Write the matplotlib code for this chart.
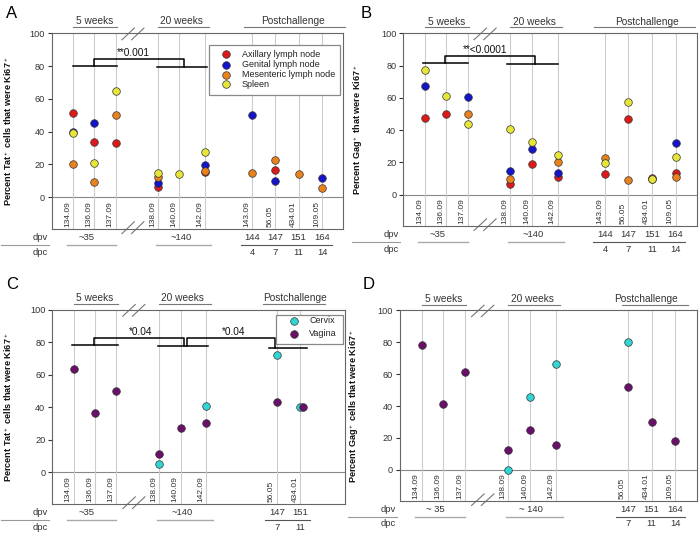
import numpy as np
import matplotlib
matplotlib.use('Agg')
import matplotlib.pyplot as plt
from matplotlib import font_manager
from matplotlib.patches import Rectangle

nan = np.nan

# Fuentes: Arial-like, y una angosta para las etiquetas de muestras
plt.rcParams['font.family'] = ['Liberation Sans', 'DejaVu Sans']
plt.rcParams['mathtext.fontset'] = 'custom'
plt.rcParams['mathtext.rm'] = 'Liberation Sans'
plt.rcParams['mathtext.it'] = 'Liberation Sans:italic'
plt.rcParams['mathtext.bf'] = 'Liberation Sans:bold'
nombres = {f.name for f in font_manager.fontManager.ttflist}
hay_angosta = 'Liberation Sans Narrow' in nombres
angosta = 'Liberation Sans Narrow' if hay_angosta else 'Liberation Sans'
tam_muestra = 7.6 if hay_angosta else 6.0
tam_fila = 8.4 if hay_angosta else 6.8

# ---- datos ----
muestras_ab = ['134.09', '136.09', '137.09', '138.09', '140.09', '142.09',
               '143.09', '56.05', '434.01', '109.05']
muestras_c = ['134.09', '136.09', '137.09', '138.09', '140.09', '142.09',
              '56.05', '434.01']
muestras_d = ['134.09', '136.09', '137.09', '138.09', '140.09', '142.09',
              '56.05', '434.01', '109.05']

tejidos = ['Axillary lymph node', 'Genital lymph node',
           'Mesenteric lymph node', 'Spleen']
mucosas = ['Cervix', 'Vagina']

# A: Tat+ Ki67+
tat_axilar = [51.6, 33.7, 33.1, 6.1, nan, 15.4, nan, 16.7, nan, nan]
tat_genital = [39.6, 45.3, nan, 8.7, nan, 19.7, 50.0, 10.0, nan, 11.8]
tat_mesenterico = [20.3, 8.9, 50.0, 12.4, nan, 15.9, 14.8, 22.4, 13.8, 5.3]
tat_bazo = [39.2, 20.5, 64.8, 14.6, 13.8, 27.8, nan, nan, nan, nan]

# B: Gag+ Ki67+
gag_axilar = [47.4, 50.1, nan, 6.4, 18.8, 11.1, 12.6, 47.0, 10.3, 13.2]
gag_genital = [67.4, nan, 60.6, 14.6, 28.5, 13.2, nan, nan, nan, 31.8]
gag_mesenterico = [nan, nan, 49.9, 9.9, nan, 20.4, 22.7, 9.1, 9.9, 10.7]
gag_bazo = [77.5, 61.4, 43.9, 40.6, 32.4, 24.7, 19.8, 57.3, 9.6, 23.5]

# C: Tat+ Ki67+ en mucosas
tat_cervix = [nan, nan, nan, 5.3, nan, 40.5, 72.1, 40.1]
tat_vagina = [63.5, 36.3, 50.1, 11.2, 27.3, 30.1, 43.4, 40.1]

# D: Gag+ Ki67+ en mucosas
gag_cervix = [nan, nan, nan, 0.0, 45.6, 66.2, 80.3, nan, nan]
gag_vagina = [78.2, 41.1, 61.4, 12.4, 25.1, 15.6, 51.9, 30.1, 18.0]

dpv_post = ['144', '147', '151', '164']
dpc_post = ['4', '7', '11', '14']
muestras_post = ['143.09', '56.05', '434.01', '109.05']

# ---- estilo / posiciones ----
pos = {'134.09': 1.0, '136.09': 2.0, '137.09': 3.0, '138.09': 5.0,
       '140.09': 6.0, '142.09': 7.2, '143.09': 9.42, '56.05': 10.5,
       '434.01': 11.6, '109.05': 12.7}
col_tejidos = ['#dd1a1a', '#1414c8', '#e8821c', '#e6e63a']
col_mucosas = ['#33d4d4', '#6a0f6a']
gris = '#777777'
texto_col = '#333333'
tam_punto = 30

fig = plt.figure(figsize=(7, 5.36), dpi=100)
axA = fig.add_axes([0.0739, 0.5728, 0.416, 0.3651])
axB = fig.add_axes([0.5761, 0.5784, 0.4191, 0.3595])
axC = fig.add_axes([0.0747, 0.0597, 0.4179, 0.3625])
axD = fig.add_axes([0.5714, 0.0653, 0.4239, 0.3558])


def marco(ax, muestras, ylabel, post_linea, tilde):
    ax.set_xlim(0, 13.68)
    ax.set_ylim(-19.5, 100)
    ax.set_xticks([])
    ax.set_yticks(range(0, 101, 20))
    for s in ax.spines.values():
        s.set_color('#666666')
        s.set_linewidth(0.8)
    ax.tick_params(axis='y', length=3, width=0.8, labelsize=6.6,
                   colors=texto_col, pad=2)
    ax.axhline(0, color='#888888', lw=0.8, zorder=1)
    for m in muestras:
        ax.axvline(pos[m], color='#cccccc', lw=0.8, zorder=1)
        ax.text(pos[m] - 0.25, -18.4, m, rotation=90, ha='center',
                va='bottom', fontsize=tam_muestra, family=angosta,
                color=texto_col)
    ax.set_ylabel(ylabel, fontsize=6.6, fontweight='bold', color='#111111')
    ax.yaxis.set_label_coords(-0.13, 0.5)

    # grupos arriba
    for txt, xc, x1, x2 in [('5 weeks', 2.0, 1.0, 3.05),
                            ('20 weeks', 6.1, 5.0, 7.4),
                            ('Postchallenge', 11.35, post_linea[0], post_linea[1])]:
        ax.text(xc, 107.3, txt, ha='center', va='center', fontsize=7.3,
                color=texto_col)
        ax.plot([x1, x2], [103.6, 103.6], color=gris, lw=0.8, clip_on=False)

    # marcas de corte //
    for y0 in (96.0, -22.3):
        for x0 in (3.3, 3.75):
            ax.plot([x0, x0 + 0.58], [y0, y0 + 7.2], color=gris, lw=0.8,
                    clip_on=False)

    # filas dpv / dpc
    ax.text(-0.55, -24.8, 'dpv', ha='center', va='center', fontsize=tam_fila,
            family=angosta, color=texto_col)
    ax.text(-0.55, -33.8, 'dpc', ha='center', va='center', fontsize=tam_fila,
            family=angosta, color=texto_col)
    ax.plot([-2.4, -0.15], [-29.3, -29.3], color='#999999', lw=0.8,
            clip_on=False)
    ax.text(1.62, -24.8, tilde + '35', ha='center', va='center',
            fontsize=tam_fila, family=angosta, color=texto_col)
    ax.text(6.06, -24.8, tilde + '140', ha='center', va='center',
            fontsize=tam_fila, family=angosta, color=texto_col)
    ax.plot([0.7, 3.0], [-29.3, -29.3], color='#aaaaaa', lw=1.0,
            clip_on=False)
    ax.plot([4.9, 7.5], [-29.3, -29.3], color='#aaaaaa', lw=1.0,
            clip_on=False)
    presentes = [i for i, m in enumerate(muestras_post) if m in muestras]
    for i in presentes:
        x = pos[muestras_post[i]]
        ax.text(x, -24.8, dpv_post[i], ha='center', va='center',
                fontsize=tam_fila, family=angosta, color=texto_col)
        ax.text(x, -33.8, dpc_post[i], ha='center', va='center',
                fontsize=tam_fila, family=angosta, color=texto_col)
    xs = [pos[muestras_post[i]] for i in presentes]
    ax.plot([xs[0] - 0.55, xs[-1] + 0.45], [-29.3, -29.3], color='#555555',
            lw=0.8, clip_on=False)


def puntos(ax, muestras, series, colores, dx=None):
    x = np.array([pos[m] for m in muestras])
    for k, (vals, c) in enumerate(zip(series, colores)):
        xx = x if dx is None else x + np.array(dx[k])
        ax.scatter(xx, vals, s=tam_punto, color=c, edgecolors='#333333',
                   linewidths=0.5, zorder=3, clip_on=False)


def leyenda(ax, rect, xm, xt, ys, etiquetas, colores):
    ax.add_patch(Rectangle((rect[0], rect[1]), rect[2], rect[3],
                           facecolor='white', edgecolor='#888888', lw=0.9,
                           zorder=4))
    for y, lab, c in zip(ys, etiquetas, colores):
        ax.scatter([xm], [y], s=tam_punto, color=c, edgecolors='#333333',
                   linewidths=0.5, zorder=5)
        ax.text(xt, y, lab, va='center', ha='left', fontsize=6.5,
                color='#222222', zorder=5)


def corchete(ax, izq, der, x_v1, x_v2, y_top, texto, xt, yt):
    k = dict(color='black', lw=1.1, clip_on=False, zorder=2)
    ax.plot(izq[:2], [izq[2], izq[2]], **k)
    ax.plot(der[:2], [der[2], der[2]], **k)
    ax.plot([x_v1, x_v1, x_v2, x_v2], [izq[2], y_top, y_top, der[2]], **k)
    ax.text(xt, yt, texto, ha='center', va='center', fontsize=7.3,
            color='#111111')


# A
marco(axA, muestras_ab, 'Percent Tat$^+$ cells that were Ki67$^+$',
      (9.05, 13.77), '~')
puntos(axA, muestras_ab, [tat_axilar, tat_genital, tat_mesenterico, tat_bazo],
       col_tejidos)
corchete(axA, (0.99, 3.08, 80.0), (4.93, 7.28, 79.6), 2.0, 6.23, 84.1,
         '**0.001', 3.83, 87.8)
leyenda(axA, (7.38, 62.4, 6.16, 30.5), 8.21, 8.92,
        [87.2, 80.9, 74.8, 69.0], tejidos, col_tejidos)

# B
marco(axB, muestras_ab, 'Percent Gag$^+$ that were Ki67$^+$',
      (8.9, 13.6), '~')
puntos(axB, muestras_ab, [gag_axilar, gag_genital, gag_mesenterico, gag_bazo],
       col_tejidos)
corchete(axB, (0.91, 3.0, 81.6), (4.85, 7.2, 81.0), 1.93, 6.15, 86.0,
         '**<0.0001', 3.84, 89.7)

# C
marco(axC, muestras_c, 'Percent Tat$^+$ cells that were Ki67$^+$',
      (9.86, 12.75), '~')
desvio_c = [[0] * 8, [0] * 7 + [0.12]]
puntos(axC, muestras_c, [tat_cervix, tat_vagina], col_mucosas, desvio_c)
corchete(axC, (0.9, 3.05, 78.0), (4.93, 7.28, 77.4), 1.95, 6.15, 82.5,
         '*0.04', 4.12, 86.0)
corchete(axC, (6.29, 6.29, 77.4), (10.14, 11.9, 76.6), 6.29, 10.4, 82.5,
         '*0.04', 8.5, 86.0)
leyenda(axC, (10.46, 79.0, 3.13, 17.9), 11.31, 12.02, [93.3, 85.3],
        mucosas, col_mucosas)

# D
marco(axD, muestras_d, 'Percent Gag$^+$ cells that were Ki67$^+$',
      (10.25, 13.3), '~ ')
puntos(axD, muestras_d, [gag_cervix, gag_vagina], col_mucosas)

# letras de panel
for letra, x, y in [('A', 0.017, 0.974), ('B', 0.523, 0.974),
                    ('C', 0.017, 0.47), ('D', 0.526, 0.47)]:
    fig.text(x, y, letra, fontsize=12, ha='center', va='center')

fig.savefig('out.png', dpi=100)
